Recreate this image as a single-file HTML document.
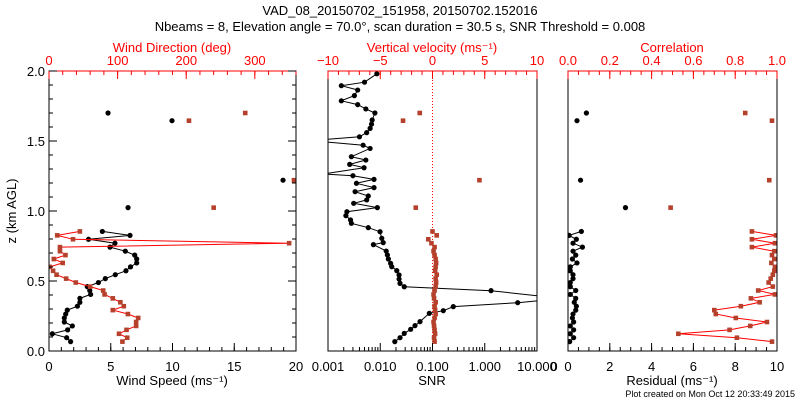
<!DOCTYPE html>
<html><head><meta charset="utf-8"><style>
html,body{margin:0;padding:0;background:#fff}
svg{display:block;font-family:"Liberation Sans",sans-serif}
</style></head><body>
<svg id="c" width="800" height="400" viewBox="0 0 800 400">
<text x="400" y="15" text-anchor="middle" font-size="13">VAD_08_20150702_151958, 20150702.152016</text>
<text x="400" y="31" text-anchor="middle" font-size="13">Nbeams = 8, Elevation angle = 70.0°, scan duration = 30.5 s, SNR Threshold = 0.008</text>
<text x="16" y="211" transform="rotate(-90 16 211)" text-anchor="middle" font-size="13">z (km AGL)</text>
<text x="795" y="397" text-anchor="end" font-size="9">Plot created on Mon Oct 12 20:33:49 2015</text>
</svg>
<script>
// shared lower heights (km)
const zLow = [0.067,0.095,0.123,0.151,0.179,0.207,0.236,0.264,0.292,0.32,0.348,0.376,0.404,0.432,0.46,0.489,0.517,0.545,0.573,0.601,0.629,0.657,0.685,0.713,0.742,0.77,0.798,0.826,0.854];
const zUp = [1.70,1.645,1.22,1.024];
// panel 1
const windSpeed = [1.75,1.43,0.27,1.51,1.89,1.24,1.24,1.35,1.48,2.3,2.5,2.5,3.37,3.3,3.1,4.0,4.56,5.37,6.23,6.6,7.1,7.1,6.94,6.18,4.94,5.34,3.2,6.56,4.32];
const windDir = [107,114,102,113,127,127,130,115,93,109,104,93,81,79,60,39,25,11,6,1,20,7,24,16,16,350,35,12,45];
const windSpeedUp = [4.78,9.96,18.95,6.4];
const windDirUp = [286,204,357,240];
// panel 2
const snrZ = [0.067,0.095,0.126,0.155,0.181,0.21,0.269,0.288,0.317,0.345,0.375,0.431,0.459,0.483,0.514,0.543,0.574,0.602,0.626,0.657,0.686,0.714,0.76,0.774,0.805,0.852,0.881,0.912,0.936,0.967,0.995,1.024,1.055,1.079,1.107,1.138,1.167,1.198,1.226,1.252,1.264,1.309,1.333,1.364,1.388,1.447,1.47,1.495,1.51,1.53,1.56,1.59,1.62,1.65,1.70,1.729,1.76,1.787,1.824,1.864,1.895,1.92,1.98];
const snr = [0.019,0.0239,0.0288,0.0382,0.0462,0.0577,0.0869,0.161,0.25,4.27,30,1.32,0.0288,0.0239,0.0229,0.0229,0.0207,0.0166,0.0158,0.0143,0.0137,0.013,0.0074,0.0114,0.0107,0.0099,0.0059,0.0028,0.0027,0.0022,0.0023,0.0088,0.0031,0.0055,0.0059,0.0033,0.0076,0.0035,0.0076,0.003,0.0008,0.0049,0.0026,0.0053,0.0028,0.0064,0.0047,0.0008,0.0008,0.004,0.0055,0.0064,0.0068,0.007,0.0079,0.0053,0.0037,0.0018,0.0032,0.0037,0.0018,0.005,0.0086];
const vertVel = [0.2,0.15,0.25,0.2,0.15,0.1,0.2,0.3,0.25,0.2,0.3,0.15,0.1,0.2,0.3,0.35,0.3,0.4,0.25,0.3,0.35,0.3,0.2,0.1,0.2,-0.1,-0.4,0.4,0.0];
const vertVelUp = [-1.22,-2.82,4.49,-1.6];
// panel 3
const residual = [0.08,0.27,0.11,0.27,0.11,0.27,0.21,0.24,0.37,0.4,0.3,0.37,0.11,0.37,0.11,0.11,0.24,0.24,0.11,0.11,0.43,0.21,0.37,0.24,0.69,0.24,0.4,0.05,0.64];
const correlation = [0.976,0.808,0.528,0.773,0.872,0.952,0.803,0.707,0.70,0.827,0.917,0.875,0.99,0.91,0.98,0.96,0.97,0.98,0.987,0.99,0.973,0.987,0.976,0.987,0.88,0.99,0.88,0.995,0.88];
const residualUp = [0.88,0.43,0.6,2.75];
const correlationUp = [0.848,0.976,0.963,0.491];

const NS='http://www.w3.org/2000/svg';
const svg=document.getElementById('c');
const Y0=351, Y1=71;
const yS=z=>Y0-(z/2)*(Y0-Y1);
function mk(t,a,p){const e=document.createElementNS(NS,t);for(const k in a)e.setAttribute(k,a[k]);(p||svg).appendChild(e);return e;}
function lin(d0,d1,r0,r1){return v=>r0+(v-d0)/(d1-d0)*(r1-r0);}
function logS(d0,d1,r0,r1){return v=>r0+(Math.log10(v)-Math.log10(d0))/(Math.log10(d1)-Math.log10(d0))*(r1-r0);}
const panels=[{x0:49,x1:296,id:'p1'},{x0:328,x1:537,id:'p2'},{x0:568,x1:777,id:'p3'}];
panels.forEach((p,i)=>{
 const cp=mk('clipPath',{id:'clip'+i});mk('rect',{x:p.x0,y:Y1,width:p.x1-p.x0,height:Y0-Y1},cp);
});
function line(xs,zs,sx,color,name,ci){
 const pts=xs.map((v,i)=>sx(v).toFixed(1)+','+yS(zs[i]).toFixed(1)).join(' ');
 const e=mk('polyline',{points:pts,fill:'none',stroke:color,'stroke-width':1,'clip-path':'url(#clip'+ci+')'});
 
 
}
function pts(xs,zs,sx,color,shape,name,ci){
 const g=mk('g',{'clip-path':'url(#clip'+ci+')'});
 
 
 xs.forEach((v,i)=>{const x=sx(v),y=yS(zs[i]);
  let e;
  if(shape==='c')e=mk('circle',{cx:x,cy:y,r:2.6,fill:color},g);
  else e=mk('rect',{x:x-2.3,y:y-2.3,width:4.6,height:4.6,fill:color},g);
  
  
 });
}
function frame(p,name){
 const r=mk('rect',{x:p.x0,y:Y1,width:p.x1-p.x0,height:Y0-Y1,fill:'none',stroke:'#000','stroke-width':1});
 
 
}
function txt(x,y,s,opt){const e=mk('text',Object.assign({x:x,y:y,'font-size':13,'text-anchor':'middle'},opt||{}));e.textContent=s;return e;}
function axisTop(p,sx,ticks,labels,minor,color){
 mk('line',{x1:p.x0,y1:Y1,x2:p.x1,y2:Y1,stroke:color});
 minor.forEach(v=>mk('line',{x1:sx(v),y1:Y1,x2:sx(v),y2:Y1+4,stroke:color}));
 ticks.forEach((v,i)=>{mk('line',{x1:sx(v),y1:Y1,x2:sx(v),y2:Y1+8,stroke:color});
  const t=txt(sx(v),Y1-6,labels[i],{fill:color});});
}
function axisBot(p,sx,ticks,labels,minor){
 minor.forEach(v=>mk('line',{x1:sx(v),y1:Y0,x2:sx(v),y2:Y0-4,stroke:'#000'}));
 ticks.forEach((v,i)=>{mk('line',{x1:sx(v),y1:Y0,x2:sx(v),y2:Y0-8,stroke:'#000'});
  const t=txt(sx(v),Y0+20,labels[i]);});
}
function rng(a,b,s){const r=[];for(let v=a;v<=b+1e-9;v+=s)r.push(+v.toFixed(6));return r;}
// panel 1
{const p=panels[0];const sx=lin(0,20,p.x0,p.x1);const sd=lin(0,360,p.x0,p.x1);
 line(windSpeed,zLow,sx,'#000','wind-speed-line',0);
 pts(windSpeed,zLow,sx,'#000','c','wind-speed',0);pts(windSpeedUp,zUp,sx,'#000','c','wind-speed-upper',0);
 line(windDir,zLow,sd,'#ff0000','wind-direction-line',0);
 pts(windDir,zLow,sd,'#b5412c','s','wind-direction',0);pts(windDirUp,zUp,sd,'#b5412c','s','wind-direction-upper',0);
 frame(p,'wind-panel-frame');
 axisTop(p,sd,[0,100,200,300],['0','100','200','300'],rng(0,360,20),'#ff0000');
 axisBot(p,sx,[0,5,10,15,20],['0','5','10','15','20'],rng(0,20,1));
 rng(0,2,0.1).forEach((z,i)=>{const L=i%5===0?8:4;
  mk('line',{x1:p.x0,y1:yS(z),x2:p.x0+L,y2:yS(z),stroke:'#000'});
  mk('line',{x1:p.x1,y1:yS(z),x2:p.x1-L,y2:yS(z),stroke:'#000'});
  if(i%5===0){const t=txt(p.x0-4,yS(z)+5,z.toFixed(1),{'text-anchor':'end'});}});
 const a=txt(172,52,'Wind Direction (deg)',{fill:'#ff0000'});
 const b=txt(172,385,'Wind Speed (ms\u207B\u00B9)');
}
// panel 2
{const p=panels[1];const sx=logS(0.001,10,p.x0,p.x1);const sw=lin(-10,10,p.x0,p.x1);
 const d=mk('line',{x1:sw(0),y1:Y1,x2:sw(0),y2:Y0,stroke:'#ff0000','stroke-dasharray':'1,2'});
 
 line(snr,snrZ,sx,'#000','snr-line',1);pts(snr,snrZ,sx,'#000','c','snr',1);
 pts(vertVel,zLow,sw,'#b5412c','s','vertical-velocity',1);pts(vertVelUp,zUp,sw,'#b5412c','s','vertical-velocity-upper',1);
 frame(p,'snr-panel-frame');
 axisTop(p,sw,[-10,-5,0,5,10],['\u221210','\u22125','0','5','10'],rng(-10,10,1),'#ff0000');
 const mn=[];[0.001,0.01,0.1,1].forEach(d=>{for(let k=2;k<10;k++)mn.push(d*k);});
 axisBot(p,sx,[0.001,0.01,0.1,1,10],['0.001','0.010','0.100','1.000','10.000'],mn);
 const a=txt(432,52,'Vertical velocity (ms\u207B\u00B9)',{fill:'#ff0000'});
 const b=txt(432,385,'SNR');
}
// panel 3
{const p=panels[2];const sx=lin(0,10,p.x0,p.x1);const sc=lin(0,1,p.x0,p.x1);
 line(residual,zLow,sx,'#000','residual-line',2);
 pts(residual,zLow,sx,'#000','c','residual',2);pts(residualUp,zUp,sx,'#000','c','residual-upper',2);
 line(correlation,zLow,sc,'#ff0000','correlation-line',2);
 pts(correlation,zLow,sc,'#b5412c','s','correlation',2);pts(correlationUp,zUp,sc,'#b5412c','s','correlation-upper',2);
 frame(p,'residual-panel-frame');
 axisTop(p,sc,[0,0.2,0.4,0.6,0.8,1],['0.0','0.2','0.4','0.6','0.8','1.0'],rng(0,1,0.05),'#ff0000');
 axisBot(p,sx,[0,2,4,6,8,10],['0','2','4','6','8','10'],rng(0,10,0.5));
 txt(554,371,'0');
 const a=txt(672,52,'Correlation',{fill:'#ff0000'});
 const b=txt(672,385,'Residual (ms\u207B\u00B9)');
}
</script>
</body></html>
